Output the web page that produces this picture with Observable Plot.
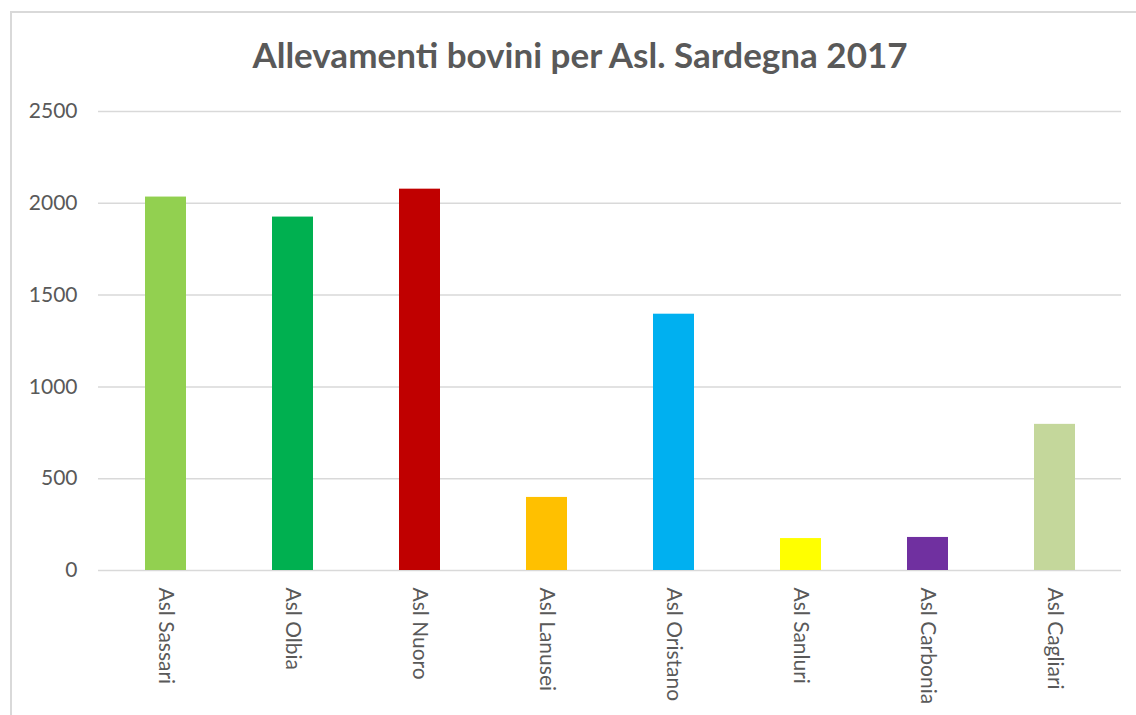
<!DOCTYPE html>
<html>
<head>
<meta charset="utf-8">
<script src="https://cdn.jsdelivr.net/npm/d3@7"></script>
<script src="https://cdn.jsdelivr.net/npm/@observablehq/plot@0.6"></script>
<style>
  html, body { margin: 0; padding: 0; background: #fff; }
  #wrap { position: relative; width: 1136px; height: 715px; overflow: hidden; font-family: Lato, sans-serif; }
  #frame { position: absolute; left: 10px; top: 11px; width: 1200px; height: 800px; border-left: 2px solid #d9d9d9; border-top: 2px solid #d9d9d9; }
  #title { position: absolute; left: 11px; width: 1138px; top: 37px; text-align: center; font-size: 35px; line-height: 35px; font-weight: 700; color: #595959; white-space: nowrap; }
  #chart { position: absolute; left: 0; top: 95px; }
</style>
</head>
<body>
<div id="wrap">
  <div id="frame"></div>
  <div id="title">Allevamenti bovini per Asl. Sardegna 2017</div>
  <div id="chart"></div>
</div>
<script>
const categories = ["Asl Sassari", "Asl Olbia", "Asl Nuoro", "Asl Lanusei", "Asl Oristano", "Asl Sanluri", "Asl Carbonia", "Asl Cagliari"];
const values = [2034, 1925, 2077, 398, 1396, 174, 180, 796];
const colors = ["#92d050", "#00b050", "#c00000", "#ffc000", "#00b0f0", "#ffff00", "#7030a0", "#c4d79b"];
const yTicks = [0, 500, 1000, 1500, 2000, 2500];

const data = categories.map((c, i) => ({ cat: c, value: values[i], color: colors[i] }));

const chart = Plot.plot({
  width: 1136,
  height: 620,
  marginLeft: 98,
  marginRight: 15,
  marginTop: 16,
  marginBottom: 145,
  style: { fontFamily: "Lato, sans-serif", fontSize: "21px", color: "#595959", background: "transparent" },
  x: { domain: categories, padding: 0 },
  y: { domain: [0, 2500] },
  marks: [
    Plot.gridY(yTicks, { stroke: "#d9d9d9", strokeOpacity: 1, strokeWidth: 1.5 }),
    Plot.barY(data, { x: "cat", y: "value", fill: "color", insetLeft: 43, insetRight: 43 }),
    Plot.axisY(yTicks, { tickSize: 0, tickPadding: 21, tickFormat: d => String(d), label: null, fontSize: 21, fill: "#595959" }),
    Plot.axisX({ tickSize: 0, tickPadding: 17, tickRotate: 90, label: null, fontSize: 21, fill: "#595959" })
  ]
});
document.getElementById("chart").appendChild(chart);
</script>
</body>
</html>
